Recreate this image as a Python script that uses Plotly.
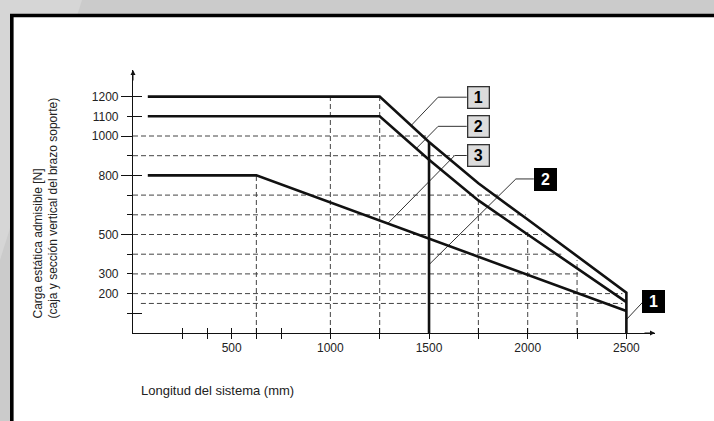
import plotly.graph_objects as go

# ---------------- data ----------------
curve1_x = [75, 1250, 1500, 1750, 2000, 2250, 2500, 2500]
curve1_y = [1200, 1200, 970, 760, 576, 391, 205, 0]
curve2_x = [75, 1250, 1500, 1750, 2000, 2250, 2500]
curve2_y = [1100, 1100, 880, 673, 500, 330, 157]
curve3_x = [75, 625, 2500]
curve3_y = [800, 800, 112]
limit_x = [1500, 1500]
limit_y = [0, 970]

# dashed grid segments (level, start, end) in data units
hgrid_levels = [1000, 900, 700, 600, 500, 400, 300, 200, 150]
hgrid_start = [0, 0, 0, 0, 0, 0, 0, 0, 40]
hgrid_end = [1500, 1625, 1860, 1990, 2070, 2170, 2260, 2480, 2480]
vgrid_pos = [625, 1000, 1250, 1750, 2000, 2250]
vgrid_top = [800, 1200, 1200, 700, 525, 370]

x_tickvals = [250, 375, 500, 625, 750, 1000, 1250, 1500, 1750, 2000, 2250, 2500]
x_ticktext = ["", "", "500", "", "", "1000", "", "1500", "", "2000", "", "2500"]
y_tickvals = [1200, 1100, 1000, 900, 800, 700, 600, 500, 400, 300, 200, 100]
y_ticktext = ["1200", "1100", "1000", "", "800", "", "", "500", "", "300", "200", ""]
y_long_ticks = [1200, 1000, 800, 500]
y_inner_ticks = [1200, 1100, 800, 100]

x_title = "Longitud del sistema (mm)"
y_title = "Carga estática admisible [N]<br>(caja y sección vertical del brazo soporte)"

X_MAX = 2645
Y_MAX = 1335

FONT = "Liberation Sans, Arial, sans-serif"
INK = "#111111"
GRID = "#444444"

# plot-area geometry helpers (pixel -> paper)
L, W, T, H = 133, 522, 70, 263
def px(x):
    return (x - L) / W
def py(y):
    return (T + H - y) / H

fig = go.Figure()

# gridlines
for lvl, s, e in zip(hgrid_levels, hgrid_start, hgrid_end):
    fig.add_trace(go.Scatter(x=[s, e], y=[lvl, lvl], mode="lines",
                             line=dict(color=GRID, width=1, dash="5px,3px"),
                             hoverinfo="skip", showlegend=False))
for p, t in zip(vgrid_pos, vgrid_top):
    fig.add_trace(go.Scatter(x=[p, p], y=[0, t], mode="lines",
                             line=dict(color=GRID, width=1, dash="5px,3px"),
                             hoverinfo="skip", showlegend=False))

# leader lines (label -> curve)
leaders = [
    ([1691, 1546, 1411], [1197, 1197, 1055]),
    ([1691, 1546, 1436], [1049, 1049, 937]),
    ([1691, 1630, 1292], [901, 901, 557]),
    ([2031, 1940, 1500], [782, 782, 347]),
    ([2639, 2585, 2500], [159, 159, 68]),
]
for lx, ly in leaders:
    fig.add_trace(go.Scatter(x=lx, y=ly, mode="lines",
                             line=dict(color="#333333", width=1),
                             hoverinfo="skip", showlegend=False, cliponaxis=False))

# curves
for cx, cy in [(curve1_x, curve1_y), (curve2_x, curve2_y), (curve3_x, curve3_y), (limit_x, limit_y)]:
    fig.add_trace(go.Scatter(x=cx, y=cy, mode="lines",
                             line=dict(color=INK, width=2.6),
                             hoverinfo="skip", showlegend=False))

# dummy traces to activate overlay axes
fig.add_trace(go.Scatter(x=[], y=[], xaxis="x2", yaxis="y", showlegend=False))
fig.add_trace(go.Scatter(x=[], y=[], xaxis="x", yaxis="y2", showlegend=False))
fig.add_trace(go.Scatter(x=[], y=[], xaxis="x", yaxis="y3", showlegend=False))

tickfont = dict(family=FONT, size=12, color="#222222")

fig.update_layout(
    width=714, height=421,
    margin=dict(l=L, r=714 - L - W, t=T, b=421 - T - H, autoexpand=False),
    paper_bgcolor="#cbcbcb",
    plot_bgcolor="rgba(0,0,0,0)",
    showlegend=False,
    font=dict(family=FONT, color="#222222"),
    xaxis=dict(range=[0, X_MAX], showline=True, linecolor=INK, linewidth=1.2,
               tickvals=x_tickvals, ticktext=x_ticktext, ticks="outside", ticklen=5,
               tickcolor=INK, tickwidth=1, showgrid=False, zeroline=False,
               tickfont=tickfont, ticklabelstandoff=-2, fixedrange=True),
    xaxis2=dict(range=[0, X_MAX], overlaying="x", anchor="y", side="bottom",
                tickvals=x_tickvals, ticks="inside", ticklen=5, tickcolor=INK,
                showticklabels=False, showline=False, showgrid=False, zeroline=False),
    yaxis=dict(range=[0, Y_MAX], showline=True, linecolor=INK, linewidth=1.2,
               tickvals=y_tickvals, ticktext=y_ticktext, ticks="outside", ticklen=5,
               tickcolor=INK, tickwidth=1, showgrid=False, zeroline=False,
               tickfont=tickfont, ticklabelstandoff=6, fixedrange=True),
    yaxis2=dict(range=[0, Y_MAX], overlaying="y", anchor="x", side="left",
                tickvals=y_long_ticks, ticks="outside", ticklen=11, tickcolor=INK,
                showticklabels=False, showline=False, showgrid=False, zeroline=False),
    yaxis3=dict(range=[0, Y_MAX], overlaying="y", anchor="x", side="left",
                tickvals=y_inner_ticks, ticks="inside", ticklen=9, tickcolor=INK,
                showticklabels=False, showline=False, showgrid=False, zeroline=False),
)

# subtle lighter wedge in the grey page background (top-left)
fig.add_shape(type="path", xref="paper", yref="paper",
              path="M %f %f L %f %f L %f %f Z" % (px(0), py(0), px(82), py(0), px(0), py(260)),
              fillcolor="#d6d6d6", line=dict(width=0), layer="below")

# white panel with thick black frame (top & left visible)
fig.add_shape(type="rect", xref="paper", yref="paper",
              x0=px(11.8), x1=1.6, y0=-0.6, y1=py(15.5),
              fillcolor="white", line=dict(color="black", width=3.6), layer="below")

# axis arrows
fig.add_annotation(x=0, y=Y_MAX, xref="x", yref="y", ax=0, ay=12,
                   showarrow=True, arrowhead=2, arrowsize=1, arrowwidth=1, arrowcolor=INK, text="")
fig.add_annotation(x=X_MAX, y=0, xref="x", yref="y", ax=-12, ay=0,
                   showarrow=True, arrowhead=2, arrowsize=1, arrowwidth=1, arrowcolor=INK, text="")

# axis titles
fig.add_annotation(text=y_title, xref="paper", yref="paper",
                   x=px(45), y=py(208.5), xanchor="center", yanchor="middle",
                   textangle=-90, showarrow=False, align="left",
                   font=dict(family=FONT, size=12, color="#222222"))
fig.add_annotation(text=x_title, xref="paper", yref="paper",
                   x=px(139), y=py(391), xanchor="left", yanchor="middle",
                   showarrow=False, font=dict(family=FONT, size=13, color="#222222"))

# numbered label boxes
gray_labels = [("1", 1751, 1197), ("2", 1751, 1048), ("3", 1751, 901)]
for t, lx, ly in gray_labels:
    fig.add_annotation(text="<b>%s</b>" % t, x=lx, y=ly, xref="x", yref="y", showarrow=False,
                       bgcolor="#dcdcdc", bordercolor="#333333", borderwidth=1.3, borderpad=1,
                       width=18, height=18, font=dict(family=FONT, size=16, color="black"))
fig.add_annotation(text="<b>2</b>", x=2088, y=781, xref="x", yref="y", showarrow=False,
                   bgcolor="black", bordercolor="black", borderwidth=1, borderpad=1,
                   width=19, height=19, font=dict(family=FONT, size=16, color="white"))
fig.add_annotation(text="<b>1</b>", x=px(665), y=159, xref="paper", yref="y", showarrow=False,
                   bgcolor="black", bordercolor="black", borderwidth=1, borderpad=1,
                   width=19, height=19, font=dict(family=FONT, size=16, color="white"))

fig.write_html("out.html", config={"displayModeBar": False},
               post_script="document.body.style.margin='0';")
